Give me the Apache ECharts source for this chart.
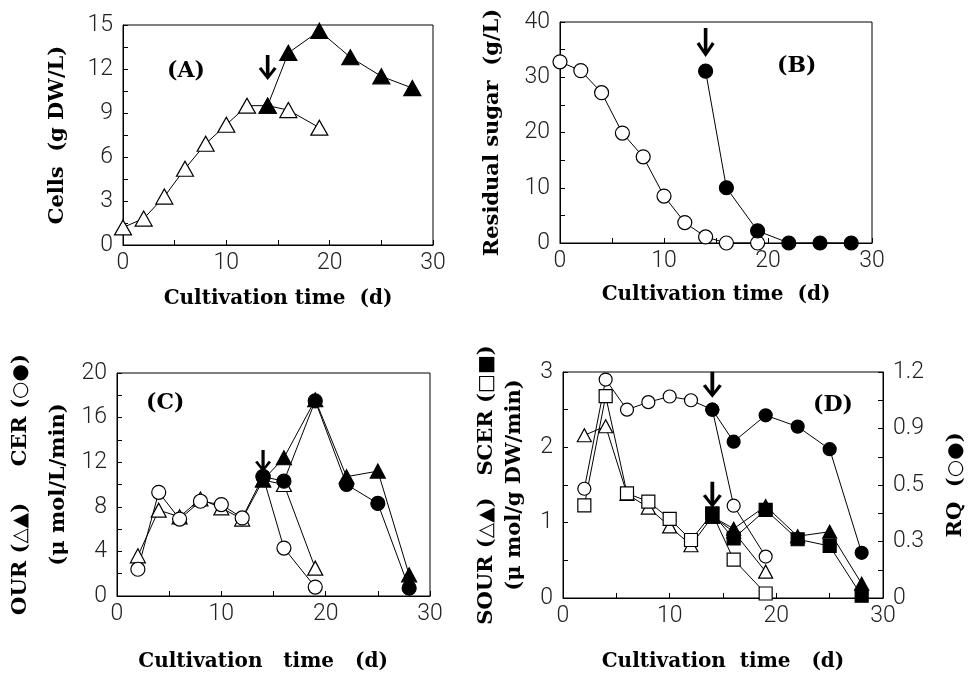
<!DOCTYPE html>
<html>
<head>
<meta charset="utf-8">
<script src="https://cdn.jsdelivr.net/npm/echarts@6/dist/echarts.min.js"></script>
<style>
  html, body { margin: 0; padding: 0; background: #fff; }
  #chart { width: 968px; height: 677px; }
</style>
</head>
<body>
<div id="chart"></div>
<script>
// days
const daysA = [0, 2, 4, 6, 8, 10, 12, 14, 16, 19];
const daysBatch = [2, 4, 6, 8, 10, 12, 14, 16, 19];
const daysFed = [14, 16, 19, 22, 25, 28];

// (A) cells, g DW/L
const cellsOpen = [1.2, 1.8, 3.3, 5.2, 6.9, 8.2, 9.5, 9.5, 9.2, 8.0];
const cellsFilled = [9.5, 13.1, 14.6, 12.8, 11.5, 10.7];

// (B) residual sugar, g/L
const sugarOpen = [32.8, 31.2, 27.2, 19.9, 15.6, 8.5, 3.7, 1.1, 0, 0];
const sugarFilled = [31.1, 10.0, 2.2, 0, 0, 0];

// (C) OUR / CER
const ourOpen = [3.6, 7.7, 7.1, 8.7, 7.9, 6.9, 10.4, 10.0, 2.5];
const cerOpen = [2.4, 9.3, 6.9, 8.5, 8.2, 7.0, 10.7, 4.3, 0.8];
const ourFilled = [10.4, 12.4, 17.6, 10.7, 11.2, 1.9];
const cerFilled = [10.7, 10.3, 17.5, 10.0, 8.3, 0.7];

// (D) SOUR / SCER / RQ
const sourOpen = [2.16, 2.28, 1.38, 1.2, 0.95, 0.7, 1.08, 0.88, 0.35];
const scerOpen = [1.23, 2.68, 1.39, 1.28, 1.05, 0.77, 1.12, 0.51, 0.06];
const rqOpen = [0.58, 1.16, 1.0, 1.04, 1.07, 1.05, 1.0, 0.49, 0.22];
const sourFilled = [1.08, 0.92, 1.22, 0.82, 0.88, 0.19];
const scerFilled = [1.12, 0.79, 1.17, 0.78, 0.69, 0.03];
const rqFilled = [1.0, 0.83, 0.97, 0.91, 0.79, 0.24];

// tick labels of the RQ axis as printed
const rqTickLabels = ['0', '0.3', '0.5', '0.9', '1.2'];

const pairs = (xs, ys) => xs.map((x, i) => [x, ys[i]]);

const SERIF = 'DejaVu Serif, Liberation Serif, serif';
const tickFont = { fontFamily: 'Roboto', fontWeight: 300, fontSize: 23, color: '#222' };
const titleFont = { fontFamily: SERIF, fontWeight: 'bold', fontSize: 20, color: '#000' };
const symRich = { s: { fontFamily: 'DejaVu Sans', fontWeight: 'bold', fontSize: 20, color: '#000' } };
const ARROW = 'path://M8,0 L12,0 L12,22 L17,14.5 L20,16.5 L10,30 L0,16.5 L3,14.5 L8,22 Z';

const xAxisFor = (gridIndex, nameGap, name) => ({
  type: 'value', gridIndex, min: 0, max: 30, interval: 10,
  name: name || 'Cultivation time  (d)', nameLocation: 'middle', nameGap,
  nameTextStyle: titleFont,
  axisLine: { lineStyle: { color: '#000', width: 1 } },
  axisTick: { inside: true, length: 5, lineStyle: { color: '#000' } },
  minorTick: { show: true, splitNumber: 2, length: 5, lineStyle: { color: '#000' } },
  axisLabel: { ...tickFont, margin: 7 },
  splitLine: { show: false }
});

const yAxisFor = (gridIndex, max, interval, name, nameGap, extra) => ({
  type: 'value', gridIndex, min: 0, max, interval,
  name, nameLocation: 'middle', nameGap, nameRotate: 90,
  nameTextStyle: { ...titleFont, fontSize: 21, rich: symRich },
  axisLine: { show: true, lineStyle: { color: '#000', width: 1 } },
  axisTick: { inside: true, length: 5, lineStyle: { color: '#000' } },
  minorTick: { show: true, splitNumber: 2, length: 5, lineStyle: { color: '#000' } },
  axisLabel: { ...tickFont, margin: 10 },
  splitLine: { show: false },
  ...extra
});

const line = (xi, yi, data, symbol, size, filled, z) => ({
  type: 'line', xAxisIndex: xi, yAxisIndex: yi, data,
  symbol, symbolSize: size, showAllSymbol: true, z,
  lineStyle: { color: '#000', width: 1 },
  itemStyle: { color: filled ? '#000' : '#fff', borderColor: '#000', borderWidth: 1.2 },
  emphasis: { disabled: true }
});

const arrow = (xi, yi, coord, size) => ({
  type: 'line', xAxisIndex: xi, yAxisIndex: yi, data: [], z: 10,
  markPoint: {
    symbol: ARROW, symbolSize: size || [18, 27], silent: true,
    itemStyle: { color: '#000' }, label: { show: false },
    data: [{ coord }]
  }
});

const panelLabel = (text, left, top) => ({
  type: 'text', left, top,
  style: { text, font: 'bold 22px "DejaVu Serif", serif', fill: '#000' }
});

const gridBox = { show: true, borderColor: '#000', borderWidth: 1, backgroundColor: 'transparent', outerBoundsMode: 'none', containLabel: false };

const chart = echarts.init(document.getElementById('chart'), null, { renderer: 'canvas' });
chart.setOption({
  backgroundColor: '#fff',
  animation: false,
  grid: [
    { left: 123, top: 25, width: 310, height: 220, ...gridBox },
    { left: 560, top: 22, width: 312, height: 221, ...gridBox },
    { left: 117, top: 373, width: 313, height: 223, ...gridBox },
    { left: 563, top: 372, width: 320, height: 226, ...gridBox }
  ],
  xAxis: [
    xAxisFor(0, 44), xAxisFor(1, 42),
    xAxisFor(2, 56, 'Cultivation   time   (d)   '), xAxisFor(3, 54, 'Cultivation  time   (d)')
  ],
  yAxis: [
    yAxisFor(0, 15, 3, 'Cells  (g DW/L)', 55),
    yAxisFor(1, 40, 10, 'Residual sugar  (g/L)', 57),
    yAxisFor(2, 20, 4, 'OUR ({s|△▲})     CER ({s|○●})\n(μ mol/L/min)', 35,
      { nameTextStyle: { ...titleFont, fontSize: 21, lineHeight: 38, rich: { s: { ...symRich.s, lineHeight: 38 } } } }),
    yAxisFor(3, 3, 1, 'SOUR ({s|△▲})   SCER ({s|□■})\n(μ mol/g DW/min)', 34,
      { nameTextStyle: { ...titleFont, fontSize: 21, lineHeight: 28, rich: { s: { ...symRich.s, lineHeight: 28 } } } }),
    yAxisFor(3, 1.2, 0.3, 'RQ  ({s|○●})', 62, {
      position: 'right', nameRotate: 90,
      axisLabel: { ...tickFont, margin: 10, formatter: v => rqTickLabels[Math.round(v / 0.3)] }
    })
  ],
  graphic: [
    panelLabel('(A)', 167, 60),
    panelLabel('(B)', 777, 55),
    panelLabel('(C)', 146, 392),
    panelLabel('(D)', 813, 394)
  ],
  series: [
    line(0, 0, pairs(daysA, cellsOpen), 'triangle', [17, 15], false, 2),
    line(0, 0, pairs(daysFed, cellsFilled), 'triangle', [17, 15], true, 3),
    arrow(0, 0, [14, 12.1], [18, 25]),

    line(1, 1, pairs(daysA, sugarOpen), 'circle', 14, false, 2),
    line(1, 1, pairs(daysFed, sugarFilled), 'circle', 14, true, 3),
    arrow(1, 1, [14, 36.3], [18, 29]),

    line(2, 2, pairs(daysBatch, ourOpen), 'triangle', [15, 14], false, 2),
    line(2, 2, pairs(daysBatch, cerOpen), 'circle', 14, false, 2),
    line(2, 2, pairs(daysFed, ourFilled), 'triangle', [15, 14], true, 3),
    line(2, 2, pairs(daysFed, cerFilled), 'circle', 14, true, 3),
    arrow(2, 2, [14, 12.1], [16, 22]),

    line(3, 3, pairs(daysBatch, sourOpen), 'triangle', [14, 13], false, 2),
    line(3, 3, pairs(daysBatch, scerOpen), 'rect', 13, false, 2),
    line(3, 4, pairs(daysBatch, rqOpen), 'circle', 13, false, 2),
    line(3, 3, pairs(daysFed, sourFilled), 'triangle', [14, 13], true, 3),
    line(3, 3, pairs(daysFed, scerFilled), 'rect', 13, true, 3),
    line(3, 4, pairs(daysFed, rqFilled), 'circle', 13, true, 3),
    arrow(3, 3, [14, 2.83], [19, 26]),
    arrow(3, 3, [14, 1.37], [19, 26])
  ]
});
window.addEventListener('resize', () => chart.resize());
</script>
</body>
</html>
